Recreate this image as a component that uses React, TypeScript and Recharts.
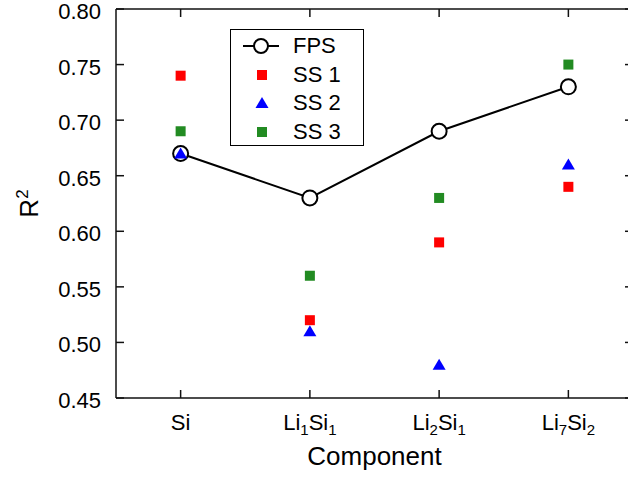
import React from 'react';
import { ComposedChart, Line, Scatter, XAxis, YAxis } from 'recharts';

const components = ['Si', 'Li1Si1', 'Li2Si1', 'Li7Si2'];
const fps = [0.67, 0.63, 0.69, 0.73];
const ss1 = [0.74, 0.52, 0.59, 0.64];
const ss2 = [0.67, 0.51, 0.48, 0.66];
const ss3 = [0.69, 0.56, 0.63, 0.75];
const yTicks = [0.45, 0.5, 0.55, 0.6, 0.65, 0.7, 0.75, 0.8];
const xTicks = [1, 2, 3, 4];

const rows = components.map((name, i) => ({
  pos: i + 1,
  name,
  fps: fps[i],
  ss1: ss1[i],
  ss2: ss2[i],
  ss3: ss3[i],
}));

const FONT = '"Liberation Sans", Arial, sans-serif';
const AXIS = '#111';
const RED = '#ff0000';
const BLUE = '#0000ff';
const GREEN = '#228b22';

const CHART_W = 640;
const CHART_H = 477;
const MARGIN_TOP = 9;
const LEFT_W = 116;
const RIGHT_W = 7;
const PLOT_W = CHART_W - LEFT_W - RIGHT_W;

const Square = ({ cx, cy, fill }: any) => (
  <rect x={cx - 5} y={cy - 5} width={10} height={10} fill={fill} />
);

const Triangle = ({ cx, cy, fill }: any) => (
  <path d={`M${cx},${cy - 6}L${cx + 6.5},${cy + 5}L${cx - 6.5},${cy + 5}Z`} fill={fill} />
);

const legendItems = [
  { key: 'fps', name: 'FPS' },
  { key: 'ss1', name: 'SS 1' },
  { key: 'ss2', name: 'SS 2' },
  { key: 'ss3', name: 'SS 3' },
];

const legendIcon = (key: string) => {
  if (key === 'fps')
    return (
      <g>
        <line x1={12} x2={48} y1={14} y2={14} stroke="#000" strokeWidth={2} />
        <circle cx={30} cy={14} r={7} fill="#fff" stroke="#000" strokeWidth={2} />
      </g>
    );
  if (key === 'ss2') return <Triangle cx={31} cy={14} fill={BLUE} />;
  return <Square cx={31} cy={14} fill={key === 'ss1' ? RED : GREEN} />;
};

// drawn as an overlay so it takes no room from the plot
const LegendBox = () => (
  <div
    style={{
      position: 'absolute',
      left: 230,
      top: 29,
      width: 134,
      height: 117,
      border: '1.5px solid #000',
      boxSizing: 'border-box',
      background: '#fff',
      fontFamily: FONT,
      fontSize: 22,
      color: '#000',
      paddingTop: 2,
    }}
  >
    {legendItems.map((it) => (
      <div key={it.key} style={{ display: 'flex', alignItems: 'center', height: 28.5, lineHeight: '28px' }}>
        <svg width={62} height={28} style={{ display: 'block' }}>
          {legendIcon(it.key)}
        </svg>
        <span>{it.name}</span>
      </div>
    ))}
  </div>
);

// bottom tick + mirrored tick hanging from the top frame
const XTick = ({ x, y, payload }: any) => {
  const name = components[payload.value - 1] || '';
  const parts = name.match(/[A-Za-z]+|\d+/g) || [];
  return (
    <g>
      <line x1={x} x2={x} y1={y} y2={y - 8} stroke={AXIS} strokeWidth={1.5} />
      <line x1={x} x2={x} y1={MARGIN_TOP} y2={MARGIN_TOP + 8} stroke={AXIS} strokeWidth={1.5} />
      <text x={x} y={y + 32} textAnchor="middle" fontSize={22} fill="#000" fontFamily={FONT}>
        {parts.map((p: string, i: number) => {
          const sub = /\d/.test(p);
          const prevSub = i > 0 && /\d/.test(parts[i - 1]);
          return (
            <tspan key={i} fontSize={sub ? 15 : 22} dy={sub ? 5 : prevSub ? -5 : 0}>
              {p}
            </tspan>
          );
        })}
      </text>
    </g>
  );
};

// left tick; the topmost one also draws the top edge of the frame
const YTick = ({ x, y, payload }: any) => (
  <g>
    <line x1={x} x2={x + 8} y1={y} y2={y} stroke={AXIS} strokeWidth={1.5} />
    {payload.value === yTicks[yTicks.length - 1] && (
      <line x1={x} x2={x + PLOT_W} y1={y} y2={y} stroke={AXIS} strokeWidth={1.5} />
    )}
    <text x={x - 15} y={y} dy={10} textAnchor="end" fontSize={22} fill="#000" fontFamily={FONT}>
      {Number(payload.value).toFixed(2)}
    </text>
  </g>
);

const RightTick = ({ x, y }: any) => (
  <line x1={x} x2={x - 8} y1={y} y2={y} stroke={AXIS} strokeWidth={1.5} />
);

const RLabel = ({ viewBox }: any) => {
  const cy = viewBox ? viewBox.y + viewBox.height / 2 : 204;
  return (
    <text transform={`translate(38, ${cy}) rotate(-90)`} textAnchor="middle" fontSize={26} fill="#000" fontFamily={FONT}>
      R<tspan fontSize={17} dy={-10}>2</tspan>
    </text>
  );
};

const XLabel = ({ viewBox }: any) => {
  const cx = viewBox ? viewBox.x + viewBox.width / 2 : 375;
  return (
    <text x={cx} y={465} textAnchor="middle" fontSize={26} fill="#000" fontFamily={FONT}>
      Component
    </text>
  );
};

export default function App() {
  return (
    <div style={{ position: 'absolute', left: 0, top: 0, width: 628, height: 477, overflow: 'hidden', background: '#fff' }}>
      <ComposedChart width={CHART_W} height={CHART_H} data={rows} margin={{ top: MARGIN_TOP, right: 0, bottom: 0, left: 0 }}>
        <XAxis
          xAxisId="b"
          dataKey="pos"
          type="number"
          domain={[0.5, 4.5]}
          ticks={xTicks}
          height={79}
          tickSize={0}
          tickMargin={0}
          tick={<XTick />}
          axisLine={{ stroke: AXIS, strokeWidth: 1.5 }}
          tickLine={false}
          label={<XLabel />}
        />
        <YAxis
          yAxisId="l"
          type="number"
          domain={[0.45, 0.8]}
          ticks={yTicks}
          width={LEFT_W}
          tickSize={0}
          tickMargin={0}
          tick={<YTick />}
          axisLine={{ stroke: AXIS, strokeWidth: 1.5 }}
          tickLine={false}
          label={<RLabel />}
        />
        <YAxis
          yAxisId="r"
          orientation="right"
          type="number"
          domain={[0.45, 0.8]}
          ticks={yTicks}
          width={RIGHT_W}
          tickSize={0}
          tickMargin={0}
          tick={<RightTick />}
          axisLine={{ stroke: AXIS, strokeWidth: 1.5 }}
          tickLine={false}
        />
        {/* invisible series so the mirrored right axis gets drawn */}
        <Line
          xAxisId="b"
          yAxisId="r"
          dataKey="fps"
          stroke="none"
          dot={false}
          activeDot={false}
          legendType="none"
          isAnimationActive={false}
        />
        <Line
          xAxisId="b"
          yAxisId="l"
          dataKey="fps"
          name="FPS"
          stroke="#000"
          strokeWidth={2}
          dot={{ r: 7.5, fill: '#fff', stroke: '#000', strokeWidth: 2 }}
          isAnimationActive={false}
        />
        <Scatter xAxisId="b" yAxisId="l" dataKey="ss1" name="SS 1" fill={RED} shape={<Square />} isAnimationActive={false} />
        <Scatter xAxisId="b" yAxisId="l" dataKey="ss2" name="SS 2" fill={BLUE} shape={<Triangle />} isAnimationActive={false} />
        <Scatter xAxisId="b" yAxisId="l" dataKey="ss3" name="SS 3" fill={GREEN} shape={<Square />} isAnimationActive={false} />
      </ComposedChart>
      <LegendBox />
    </div>
  );
}
